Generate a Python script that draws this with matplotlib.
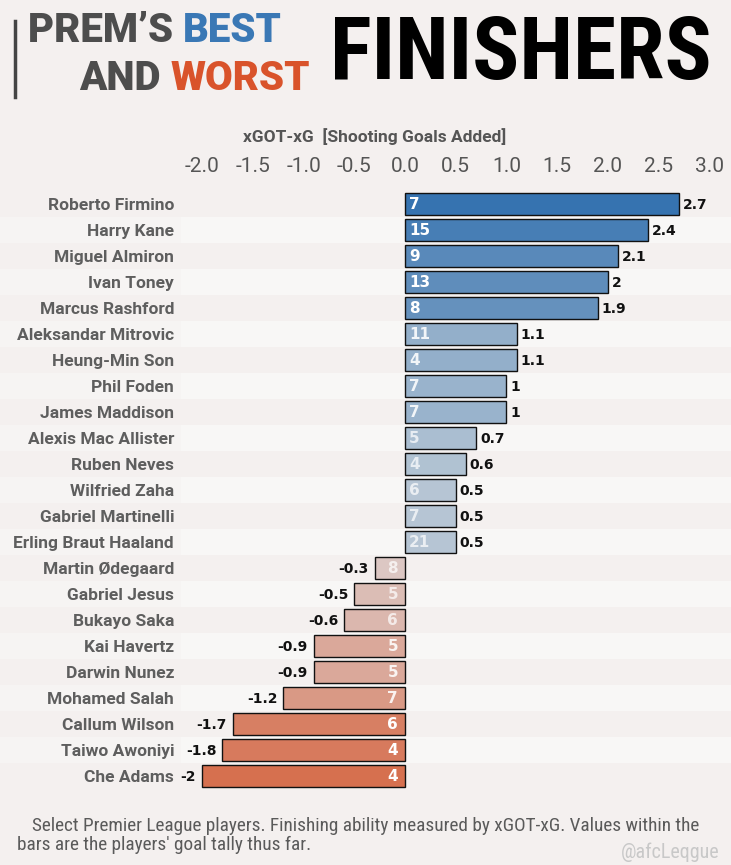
import matplotlib
matplotlib.use("Agg")
import matplotlib.pyplot as plt
from matplotlib import font_manager, transforms
from matplotlib.patches import Rectangle
import numpy as np

players = ["Roberto Firmino", "Harry Kane", "Miguel Almiron", "Ivan Toney",
           "Marcus Rashford", "Aleksandar Mitrovic", "Heung-Min Son", "Phil Foden",
           "James Maddison", "Alexis Mac Allister", "Ruben Neves", "Wilfried Zaha",
           "Gabriel Martinelli", "Erling Braut Haaland", "Martin Ødegaard",
           "Gabriel Jesus", "Bukayo Saka", "Kai Havertz", "Darwin Nunez",
           "Mohamed Salah", "Callum Wilson", "Taiwo Awoniyi", "Che Adams"]
xgot_minus_xg = [2.7, 2.4, 2.1, 2.0, 1.9, 1.1, 1.1, 1.0, 1.0, 0.7, 0.6, 0.5, 0.5, 0.5,
                 -0.3, -0.5, -0.6, -0.9, -0.9, -1.2, -1.7, -1.8, -2.0]
value_labels = ["2.7", "2.4", "2.1", "2", "1.9", "1.1", "1.1", "1", "1", "0.7", "0.6",
                "0.5", "0.5", "0.5", "-0.3", "-0.5", "-0.6", "-0.9", "-0.9", "-1.2",
                "-1.7", "-1.8", "-2"]
goals = [7, 15, 9, 13, 8, 11, 4, 7, 7, 5, 4, 6, 7, 21, 8, 5, 6, 5, 5, 7, 6, 4, 4]
ticks = [-2.0, -1.5, -1.0, -0.5, 0.0, 0.5, 1.0, 1.5, 2.0, 2.5, 3.0]

avail = {f.name for f in font_manager.fontManager.ttflist}
def pick(*names):
    for n in names:
        if n in avail:
            return n
    return "DejaVu Sans"

COND = pick("Liberation Sans Narrow", "Roboto Condensed", "DejaVu Sans")
WIDE = pick("Roboto", "Liberation Sans", "DejaVu Sans")

W, H = 731, 865
fig = plt.figure(figsize=(W / 100, H / 100), dpi=100)
BG = "#f4f0ef"
fig.patch.set_facecolor(BG)
renderer = fig.canvas.get_renderer()

def fx(px):
    return px / W
def fy(py):
    return 1 - py / H

# axes geometry (pixels)
zero_px = 405.0
ppu = 101.4
ax_l, ax_r = 181, 725
n = len(players)
row_h = 26
top = 204 - row_h / 2
bot = top + n * row_h
ax = fig.add_axes([fx(ax_l), fy(bot), (ax_r - ax_l) / W, (bot - top) / H])
ax.set_xlim((ax_l - zero_px) / ppu, (ax_r - zero_px) / ppu)
ax.set_ylim(n - 0.5, -0.5)
ax.set_facecolor("none")
for s in ax.spines.values():
    s.set_visible(False)

# background bands
blend = transforms.blended_transform_factory(fig.transFigure, ax.transData)
for i in range(n):
    if i % 2 == 1:
        fig.add_artist(Rectangle((0, i - 0.5), fx(ax_l), 1, transform=blend,
                                 facecolor="#f6f4f3", edgecolor="none", zorder=0))
        fig.add_artist(Rectangle((fx(ax_l), i - 0.5), 1 - fx(ax_l), 1, transform=blend,
                                 facecolor="#f8f7f6", edgecolor="none", zorder=0))

# colours
pos_c0 = np.array([211, 216, 220]) / 255
pos_c1 = np.array([54, 115, 176]) / 255
neg_c0 = np.array([221, 214, 215]) / 255
neg_c1 = np.array([214, 112, 79]) / 255
def colour(v):
    if v >= 0:
        t = v / 2.7
        return tuple(pos_c0 + t * (pos_c1 - pos_c0))
    t = -v / 2.0
    return tuple(neg_c0 + t * (neg_c1 - neg_c0))

y = np.arange(n)
cols = [colour(v) for v in xgot_minus_xg]
ax.barh(y, xgot_minus_xg, height=0.85, color=cols, edgecolor="#111111", linewidth=1.0, zorder=3)

px_unit = 1 / ppu
for i, (v, lab, g) in enumerate(zip(xgot_minus_xg, value_labels, goals)):
    a = 1.0 if abs(v) >= 1.5 else (0.88 if abs(v) >= 0.9 else 0.72)
    if v >= 0:
        ax.text(4 * px_unit, i + 0.03, str(g), ha="left", va="center", fontsize=11,
                fontweight="bold", color="white", alpha=a, zorder=4, family="DejaVu Sans")
        ax.text(v + 4 * px_unit, i + 0.03, lab, ha="left", va="center", fontsize=10,
                fontweight="bold", color="#111111", zorder=4, family="DejaVu Sans")
    else:
        ax.text(-7 * px_unit, i + 0.03, str(g), ha="right", va="center", fontsize=11,
                fontweight="bold", color="white", alpha=a, zorder=4, family="DejaVu Sans")
        ax.text(v - 6 * px_unit, i + 0.03, lab, ha="right", va="center", fontsize=10,
                fontweight="bold", color="#111111", zorder=4, family="DejaVu Sans")

# player labels
ax.set_yticks(y)
ax.set_yticklabels(players, family=[WIDE, "DejaVu Sans"], fontsize=12.5, fontweight="semibold",
                   color="#5e5e5e")
ax.tick_params(axis="y", length=0, pad=5)

# top axis
ax.xaxis.tick_top()
ax.set_xticks(ticks)
ax.set_xticklabels([f"{t:.1f}" for t in ticks], family=[WIDE, "DejaVu Sans"],
                   fontsize=15, color="#555555")
ax.tick_params(axis="x", length=0, pad=11)

fig.text(fx(375), fy(137), "xGOT-xG  [Shooting Goals Added]", ha="center", va="center",
         fontsize=12.5, fontweight="semibold", color="#555555", family=[WIDE, "DejaVu Sans"])

# title
def line(pieces, x, ypx, align="left", **kw):
    texts = [fig.text(0, fy(ypx), s, ha="left", va="center", color=c, **kw) for s, c in pieces]
    widths = [t.get_window_extent(renderer).width for t in texts]
    total = sum(widths)
    start = x if align == "left" else x - total
    for t, w in zip(texts, widths):
        t.set_x(fx(start))
        start += w

fig.add_artist(plt.Line2D([fx(15), fx(15)], [fy(21), fy(97)], color="#444444", linewidth=2.5))
tkw = dict(fontsize=29, fontweight="heavy", family=[WIDE, "DejaVu Sans"])
line([("PREM’S ", "#4d4d4d"), ("BEST", "#3a78b5")], 28, 31, "left", **tkw)
line([("AND ", "#4d4d4d"), ("WORST", "#d9532b")], 310, 79, "right", **tkw)
fig.text(fx(712), fy(55), "FINISHERS", ha="right", va="center", fontsize=63, fontweight="heavy",
         color="black", family=[COND, "DejaVu Sans"])

# footer
fkw = dict(ha="left", va="center", fontsize=13.9, color="#5a5a5a", family=[COND, "DejaVu Sans"])
fig.text(fx(32), fy(826), "Select Premier League players. Finishing ability measured by xGOT-xG. Values within the", **fkw)
fig.text(fx(17), fy(845), "bars are the players' goal tally thus far.", **fkw)
fig.text(fx(720), fy(852), "@afcLeqgue", ha="right", va="center", fontsize=14.5,
         color="#c8c8c8", family=[COND, "DejaVu Sans"])

fig.savefig("out.png", dpi=100, facecolor=BG)
